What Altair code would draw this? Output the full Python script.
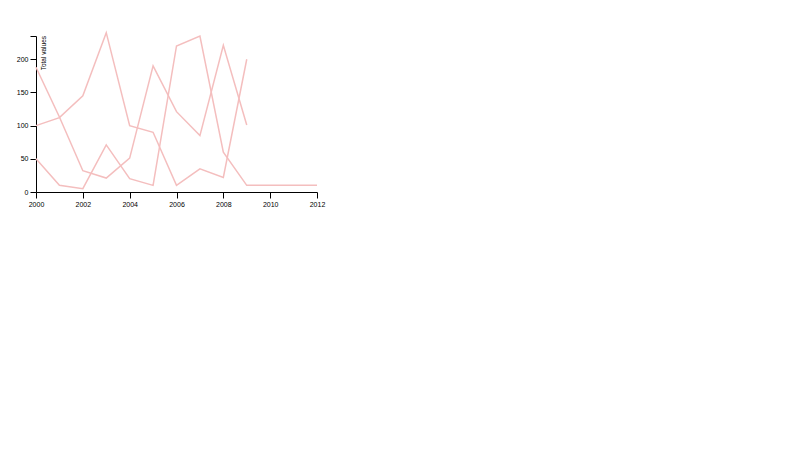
import altair as alt
import pandas as pd

years_a = [2000, 2001, 2002, 2003, 2004, 2005, 2006, 2007, 2008, 2009]
values_a = [100, 112, 145, 240, 100, 90, 10, 35, 22, 200]

years_b = [2000, 2001, 2002, 2003, 2004, 2005, 2006, 2007, 2008, 2009]
values_b = [188, 113, 32, 21, 51, 190, 121, 85, 221, 101]

years_c = [2000, 2001, 2002, 2003, 2004, 2005, 2006, 2007, 2008, 2009, 2010, 2011, 2012]
values_c = [50, 10, 5, 71, 20, 10, 220, 235, 60, 10, 10, 10, 10]

x_ticks = [2000, 2002, 2004, 2006, 2008, 2010, 2012]
y_ticks = [0, 50, 100, 150, 200, 235]
y_title = "Total values"

rows = []
for name, ys, vs in [("a", years_a, values_a), ("b", years_b, values_b), ("c", years_c, values_c)]:
    for y, v in zip(ys, vs):
        rows.append({"series": name, "year": y, "value": v})
df = pd.DataFrame(rows)

lines = alt.Chart(df).mark_line(color="#f4bebe", strokeWidth=1.5).encode(
    x=alt.X("year:Q",
            scale=alt.Scale(domain=[2000, 2012], nice=False, zero=False),
            axis=alt.Axis(values=x_ticks, format="d", title=None, labelFlush=False)),
    y=alt.Y("value:Q",
            scale=alt.Scale(domain=[0, 235], nice=False),
            axis=alt.Axis(values=y_ticks, title=None, labelFlush=False,
                          labelExpr="datum.value == 235 ? '' : datum.label")),
    detail="series:N",
)

label = alt.Chart(pd.DataFrame({"t": [y_title]})).mark_text(
    angle=270, align="right", baseline="alphabetic",
    font="Liberation Sans", fontSize=6.5, color="black"
).encode(text="t:N", x=alt.value(10), y=alt.value(0))

chart = alt.layer(lines, label).properties(
    width=281, height=156,
    autosize=alt.AutoSizeParams(type="none"),
    padding={"left": 28, "top": 28, "right": 20, "bottom": 30},
).configure_view(stroke=None).configure_axis(
    grid=False,
    domainColor="black",
    tickColor="black",
    labelColor="black",
    labelFont="Liberation Sans",
    labelFontSize=7,
    tickSize=6,
    labelPadding=2,
    domainWidth=1,
    tickWidth=1,
)

chart.save("out.html", embed_options={"renderer": "svg", "actions": False})
